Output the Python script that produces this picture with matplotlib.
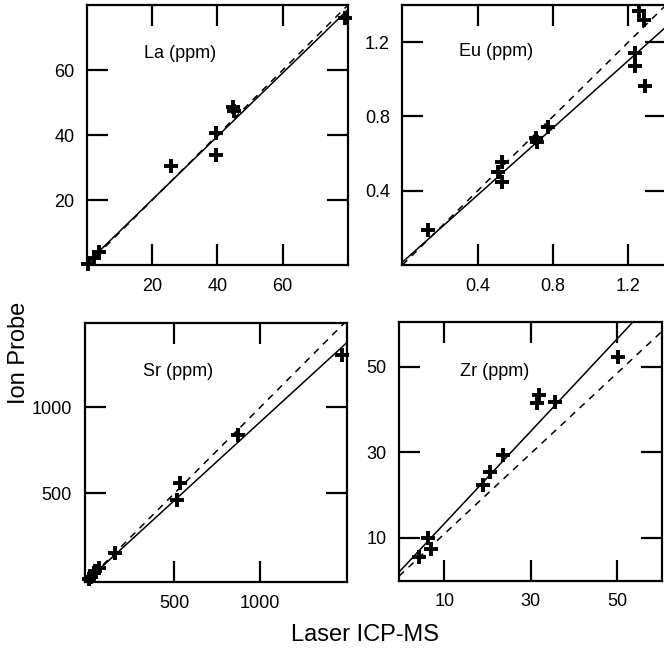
import matplotlib
matplotlib.use("Agg")
import matplotlib.pyplot as plt
import numpy as np

plt.rcParams["font.family"] = ["Liberation Sans", "DejaVu Sans"]

# Element names shown in each panel
elements = ["La", "Eu", "Sr", "Zr"]

# Laser ICP-MS (x) and ion probe (y) concentrations
la_laser = [0.3, 2.2, 3.7, 25.8, 39.6, 39.6, 44.7, 45.0, 79.0]
la_ion = [0.2, 2.2, 4.1, 30.5, 40.7, 33.8, 48.5, 47.3, 75.9]

eu_laser = [0.138, 0.506, 0.527, 0.527, 0.708, 0.715, 0.772, 1.236, 1.236, 1.258, 1.283, 1.289]
eu_ion = [0.188, 0.502, 0.553, 0.449, 0.686, 0.665, 0.742, 1.140, 1.072, 1.368, 1.319, 0.964]

sr_laser = [2, 14, 38, 60, 154, 514, 533, 873, 1477]
sr_ion = [0, 12, 50, 65, 151, 462, 562, 839, 1304]

zr_laser = [4.15, 6.3, 6.9, 18.9, 20.5, 23.5, 31.8, 31.4, 35.7, 50.3]
zr_ion = [5.6, 10.0, 7.4, 22.4, 25.4, 29.4, 43.5, 41.5, 41.8, 52.2]

# Regression line (solid) and reference line (dashed): slope, intercept
fit_slope = [0.975, 0.905, 0.913, 1.08]
fit_intercept = [0.6, 0.015, 2.0, 2.5]
ref_slope = [1.0, 1.0, 1.0, 0.94]
ref_intercept = [0.0, 0.0, 0.0, 1.5]

# Tick values
la_ticks = [20, 40, 60]
eu_ticks = [0.4, 0.8, 1.2]
sr_ticks = [500, 1000]
zr_ticks = [10, 30, 50]

panels = [
    dict(x=la_laser, y=la_ion, ticks=la_ticks, xlim=(0, 80), ylim=(0, 80),
         rect=[0.1310, 0.5923, 0.3931, 0.4000], fmt="{:.0f}", label_pos=(0.218, 0.815)),
    dict(x=eu_laser, y=eu_ion, ticks=eu_ticks, xlim=(0, 1.4), ylim=(0, 1.4),
         rect=[0.6060, 0.5923, 0.3970, 0.4000], fmt="{:.1f}", label_pos=(0.216, 0.820)),
    dict(x=sr_laser, y=sr_ion, ticks=sr_ticks, xlim=(-24, 1508), ylim=(-16, 1492),
         rect=[0.1273, 0.1046, 0.3958, 0.3989], fmt="{:.0f}", label_pos=(0.224, 0.811)),
    dict(x=zr_laser, y=zr_ion, ticks=zr_ticks, xlim=(-0.5, 60.5), ylim=(0, 60.5),
         rect=[0.6009, 0.1069, 0.3968, 0.3980], fmt="{:.0f}", label_pos=(0.232, 0.807)),
]

fig = plt.figure(figsize=(6.64, 6.5), dpi=100)

for i, p in enumerate(panels):
    ax = fig.add_axes(p["rect"])
    x0, x1 = p["xlim"]
    xs = np.array([x0, x1])
    ax.plot(xs, ref_slope[i] * xs + ref_intercept[i], color="black", lw=1.1,
            ls=(0, (4.5, 4.0)))
    ax.plot(xs, fit_slope[i] * xs + fit_intercept[i], color="black", lw=1.1)
    ax.plot(p["x"], p["y"], ls="none", marker="+", ms=9.5, mew=2.8,
            color="black", clip_on=False, zorder=5)
    ax.set_xlim(*p["xlim"])
    ax.set_ylim(*p["ylim"])
    ax.set_xticks(p["ticks"])
    ax.set_yticks(p["ticks"])
    ax.set_xticklabels([p["fmt"].format(t) for t in p["ticks"]])
    ax.set_yticklabels([p["fmt"].format(t) for t in p["ticks"]])
    ax.tick_params(direction="in", length=15, width=1.6, top=True, right=True,
                   labelsize=13, pad=9, colors="black")
    for s in ax.spines.values():
        s.set_linewidth(1.6)
    ax.text(p["label_pos"][0], p["label_pos"][1], f"{elements[i]} (ppm)",
            transform=ax.transAxes, fontsize=13, ha="left", va="center")

fig.text(0.028, 0.457, "Ion Probe", rotation=90, fontsize=17, ha="center", va="center")
fig.text(0.55, 0.023, "Laser ICP-MS", fontsize=17, ha="center", va="center")

fig.savefig("out.png", dpi=100)
